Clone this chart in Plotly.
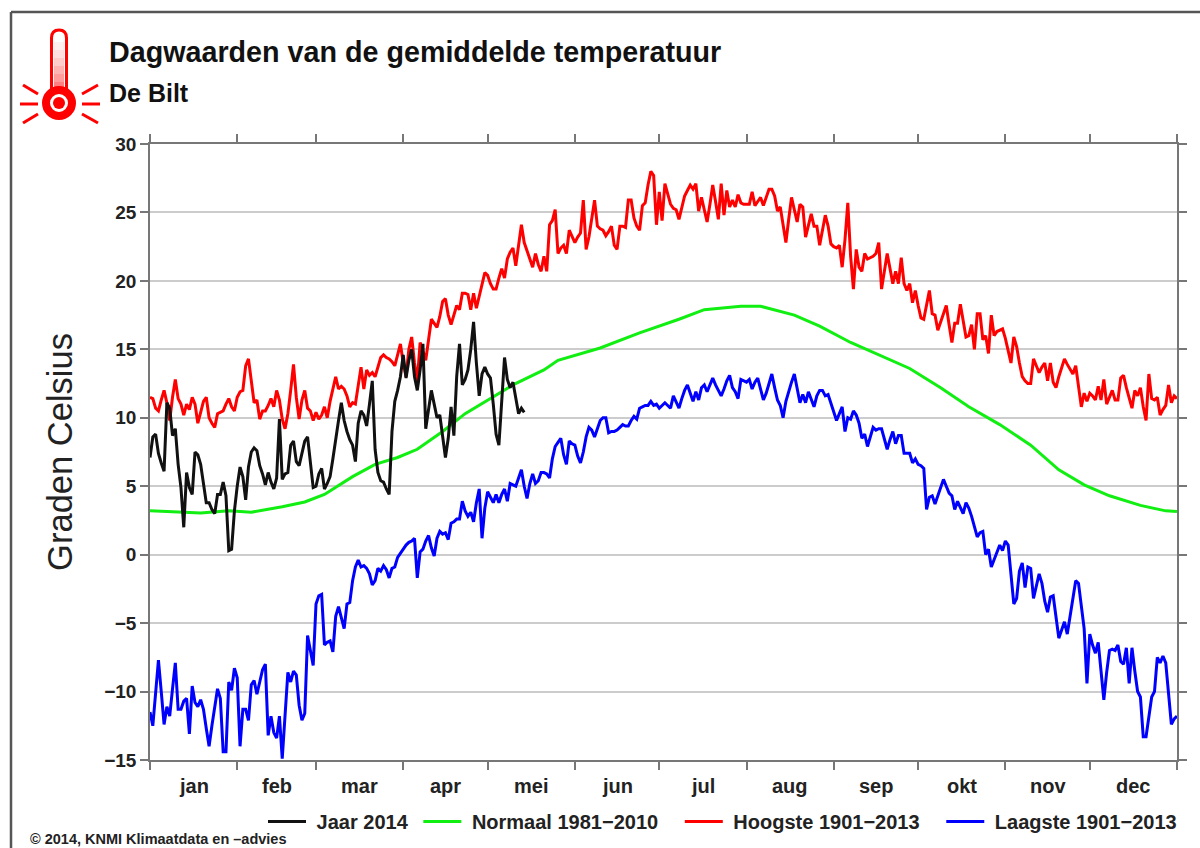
import plotly.graph_objects as go

TITLE = "Dagwaarden van de gemiddelde temperatuur"
STATION = "De Bilt"
CREDIT = "© 2014, KNMI Klimaatdata en –advies"
Y_TITLE = "Graden Celsius"
MONTHS = ["jan", "feb", "mar", "apr", "mei", "jun", "jul", "aug", "sep", "okt", "nov", "dec"]
MONTH_EDGES = [0, 31, 59, 90, 120, 151, 181, 212, 243, 273, 304, 334, 365]
Y_TICKS = [-15, -10, -5, 0, 5, 10, 15, 20, 25, 30]

jaar_2014 = [
    7.1, 8.6, 8.8, 7.4, 6.7, 6.1, 11.1, 10.7, 8.7, 9.2,
    6.6, 4.9, 2.0, 6.0, 4.9, 4.4, 7.5, 7.3, 6.6, 5.2,
    3.8, 3.8, 3.3, 3.0, 4.4, 4.4, 5.3, 4.3, 0.3, 0.4,
    3.2, 5.0, 6.4, 5.7, 4.0, 6.4, 7.5, 7.8, 7.6, 6.5,
    5.9, 5.1, 6.0, 5.3, 4.8, 5.6, 9.9, 5.5, 5.9, 6.0,
    8.0, 8.3, 6.8, 6.5, 7.4, 8.3, 8.6, 6.7, 4.9, 5.0,
    5.9, 6.3, 4.8, 5.2, 5.7, 7.0, 8.6, 9.8, 11.1, 9.8,
    9.0, 8.4, 8.0, 6.8, 9.6, 10.5, 10.2, 9.4, 11.0, 12.7,
    7.7, 6.0, 5.4, 5.3, 4.8, 4.4, 9.0, 11.2, 12.0, 13.0,
    14.6, 12.9, 14.2, 15.0, 13.0, 12.0, 13.5, 15.4, 9.2, 10.8,
    12.0, 11.0, 10.0, 10.2, 8.5, 7.1, 8.5, 10.8, 8.7, 13.0,
    15.4, 12.4, 12.8, 13.5, 15.0, 17.0, 14.0, 11.6, 13.2, 13.7,
    13.2, 12.9, 11.0, 8.8, 8.0, 11.5, 14.4, 12.8, 12.2, 12.6,
    11.3, 10.3, 10.7, 10.4,
]

hoogste = [
    11.5, 11.4, 10.7, 10.5, 11.3, 12.0, 11.1, 9.8, 11.5, 12.8,
    11.4, 11.0, 10.2, 11.0, 10.6, 11.5, 11.0, 9.6, 10.4, 11.2,
    11.5, 10.0, 9.6, 9.3, 10.3, 10.4, 10.5, 11.0, 11.4, 10.8,
    10.5, 11.5, 11.9, 12.0, 13.8, 14.3, 12.5, 11.1, 11.3, 9.9,
    10.5, 10.5, 10.9, 11.4, 10.8, 12.0, 11.3, 9.9, 9.2, 10.3,
    12.0, 13.9, 11.5, 9.9, 11.3, 12.0, 10.7, 10.5, 9.8, 10.4,
    9.9, 10.2, 10.8, 10.0, 11.2, 12.0, 13.0, 12.1, 12.3, 12.1,
    11.6, 10.8, 11.1, 11.0, 12.5, 13.7, 12.1, 13.5, 13.1, 13.3,
    13.0, 13.7, 14.4, 14.6, 14.4, 14.3, 14.1, 13.8, 14.6, 15.4,
    14.0, 13.0, 15.0, 15.9, 14.0, 12.7, 15.5, 14.8, 14.2, 15.7,
    17.2, 16.9, 16.6, 17.4, 18.5, 18.7, 17.5, 16.8, 17.5, 18.2,
    17.9, 19.1, 19.1, 19.0, 17.9, 19.1, 18.0, 18.9, 19.8, 20.6,
    20.4, 19.8, 19.4, 19.4, 20.2, 20.9, 20.2, 21.6, 22.1, 22.4,
    21.1, 22.8, 24.1, 22.8, 22.2, 21.7, 21.0, 22.0, 21.2, 20.7,
    21.8, 20.7, 24.1, 24.4, 25.2, 22.0, 22.4, 22.6, 22.0, 23.7,
    23.2, 22.8, 23.2, 23.5, 25.9, 22.3, 23.2, 24.5, 25.9, 24.0,
    23.8, 23.7, 23.3, 23.6, 24.0, 22.6, 22.3, 24.0, 24.0, 23.9,
    25.9, 25.9, 24.6, 24.0, 23.7, 25.5, 25.7, 27.0, 28.0, 27.7,
    24.1, 26.5, 24.4, 27.1, 26.3, 25.6, 25.3, 25.2, 24.5, 25.4,
    26.2, 26.6, 27.0, 26.7, 27.1, 25.1, 26.1, 25.2, 24.3, 25.6,
    27.0, 25.8, 24.5, 27.1, 24.8, 26.6, 25.4, 25.9, 25.4, 26.3,
    25.7, 25.6, 25.6, 25.6, 26.5, 25.5, 25.8, 26.1, 25.5, 26.1,
    26.7, 26.7, 26.2, 25.1, 25.4, 24.1, 22.8, 24.5, 26.1, 25.2,
    24.3, 25.6, 25.4, 23.2, 24.0, 24.9, 24.0, 24.0, 22.6, 23.7,
    24.8, 24.0, 22.7, 22.5, 22.4, 22.6, 21.0, 23.0, 25.7, 21.8,
    19.4, 22.3, 21.0, 20.7, 22.0, 21.6, 21.7, 21.8, 22.0, 22.8,
    19.4, 20.7, 22.0, 20.9, 19.8, 20.7, 19.8, 21.7, 19.8, 19.3,
    19.8, 18.4, 19.3, 18.2, 17.3, 17.2, 18.3, 19.3, 17.6, 17.5,
    16.4, 17.0, 17.6, 18.2, 16.8, 15.5, 16.9, 16.9, 18.3, 17.0,
    15.9, 16.0, 16.8, 15.0, 17.6, 17.6, 15.7, 16.0, 14.7, 17.5,
    16.0, 16.3, 16.4, 16.5, 15.8, 15.0, 14.0, 15.9, 15.2, 14.0,
    13.0, 12.7, 12.5, 12.5, 14.3, 13.8, 13.3, 13.7, 14.0, 12.7,
    14.0, 12.6, 12.2, 13.0, 13.6, 14.3, 13.9, 13.5, 13.2, 13.8,
    12.3, 10.8, 11.8, 11.2, 11.8, 11.6, 11.3, 12.3, 11.3, 12.8,
    11.0, 11.5, 12.0, 11.3, 11.3, 12.9, 13.1, 12.2, 11.4, 10.7,
    12.0, 11.6, 12.2, 10.8, 9.8, 13.2, 11.4, 11.3, 11.5, 10.2,
    10.6, 10.9, 12.4, 11.1, 11.6, 11.4,
]

laagste = [
    -11.5, -12.5, -10.1, -7.7, -10.0, -12.4, -11.1, -11.8, -9.8, -7.9,
    -11.3, -11.3, -10.7, -10.5, -13.1, -9.6, -10.8, -11.1, -10.6, -11.3,
    -12.7, -14.0, -12.5, -11.0, -9.8, -10.5, -14.4, -14.4, -9.3, -9.9,
    -8.3, -9.0, -14.0, -11.3, -11.3, -12.1, -9.5, -9.2, -10.2, -9.3,
    -8.4, -8.0, -13.2, -11.8, -13.0, -13.4, -11.8, -14.9, -11.5, -8.6,
    -9.3, -8.5, -8.8, -11.0, -12.1, -11.6, -5.9, -7.0, -8.1, -3.6,
    -3.0, -2.9, -6.6, -6.4, -6.3, -7.1, -4.5, -3.8, -4.6, -5.4,
    -3.6, -3.5, -1.9, -0.9, -0.4, -0.9, -0.8, -1.0, -1.4, -2.2,
    -1.9, -1.0, -1.2, -0.8, -1.1, -1.7, -1.0, -0.9, -0.2, 0.1,
    0.4, 0.7, 0.9, 1.0, 1.2, -1.7, 0.2, 0.4, 1.0, 1.4,
    0.5, -0.1, 1.2, 1.7, 1.5, 1.6, 1.1, 2.3, 2.4, 2.6,
    2.6, 3.9, 3.2, 2.8, 3.1, 2.4, 3.8, 4.8, 1.2, 3.4,
    4.6, 4.2, 3.8, 4.4, 3.8, 4.4, 4.8, 3.9, 5.2, 5.1,
    5.0, 5.6, 6.2, 5.0, 4.1, 5.2, 5.9, 5.2, 5.4, 6.0,
    6.0, 5.9, 5.6, 7.0, 7.9, 8.2, 8.5, 7.3, 6.6, 8.3,
    8.1, 8.0, 7.2, 6.7, 7.5, 8.6, 9.3, 9.1, 8.6, 9.2,
    9.8, 10.0, 10.0, 8.9, 9.0, 9.0, 9.1, 9.3, 9.5, 9.4,
    9.4, 9.8, 10.1, 9.9, 10.7, 10.8, 10.9, 10.9, 11.2, 10.9,
    11.0, 10.7, 10.9, 11.1, 10.9, 10.7, 11.6, 11.1, 10.7, 11.4,
    12.0, 12.4, 11.8, 11.2, 11.9, 11.3, 12.2, 12.4, 11.9, 12.4,
    12.9, 12.4, 12.0, 11.6, 12.1, 12.7, 13.1, 12.2, 11.9, 11.4,
    12.8, 12.7, 12.6, 12.8, 12.1, 12.6, 12.9, 12.1, 11.3, 11.8,
    12.6, 13.2, 12.2, 11.3, 10.9, 10.0, 11.2, 12.0, 12.6, 13.2,
    12.1, 11.1, 11.7, 11.1, 11.9, 11.3, 10.8, 11.6, 12.0, 12.0,
    11.6, 11.7, 11.1, 10.4, 9.8, 10.3, 10.8, 9.0, 10.0, 9.9,
    10.5, 10.2, 9.6, 8.5, 8.8, 7.9, 8.6, 9.3, 9.1, 9.2,
    9.2, 8.4, 7.7, 8.4, 9.0, 8.1, 8.7, 8.7, 7.4, 7.4,
    7.4, 6.7, 7.0, 6.6, 6.5, 6.3, 3.3, 4.2, 4.3, 3.7,
    4.3, 4.9, 5.5, 5.0, 4.5, 4.3, 3.3, 3.9, 3.4, 3.0,
    3.8, 3.4, 2.8, 2.0, 1.3, 1.6, 1.7, 0.0, 0.4, -0.9,
    -0.4, 0.2, 0.7, 0.3, 1.0, 0.7, -1.5, -3.6, -3.2, -1.2,
    -0.6, -2.4, -0.9, -1.0, -3.2, -2.2, -1.4, -2.1, -3.4, -4.2,
    -3.1, -3.0, -4.6, -6.1, -5.5, -4.9, -5.8, -4.5, -3.1, -1.9,
    -2.1, -4.0, -5.4, -9.4, -5.8, -6.6, -7.2, -6.4, -8.5, -10.6,
    -8.6, -7.0, -6.9, -7.0, -6.6, -7.8, -8.0, -6.8, -9.4, -6.8,
    -8.5, -10.0, -10.4, -13.3, -13.3, -11.8, -10.4, -10.0, -7.5, -7.9,
    -7.4, -7.9, -10.2, -12.4, -12.0, -11.8,
]

normaal_dag = [0, 12, 18, 28, 36, 47, 55, 62, 65, 72, 80, 88, 95, 104, 112, 122, 129, 140, 145,
               160, 174, 188, 197, 210, 217, 229, 238, 249, 259, 270, 281, 291, 302, 313, 323,
               332, 341, 352, 361, 365]
normaal = [3.2, 3.1, 3.05, 3.2, 3.1, 3.5, 3.85, 4.4, 4.8, 5.7, 6.6, 7.1, 7.7, 9.0, 10.3, 11.5, 12.4, 13.5, 14.2,
           15.1, 16.2, 17.2, 17.9, 18.15, 18.15, 17.5, 16.7, 15.5, 14.6, 13.6, 12.2, 10.8, 9.5, 8.0, 6.2,
           5.1, 4.3, 3.6, 3.2, 3.15]

FONT = "Liberation Sans"
NB = "\u00a0"
L, R, T, B = 150, 1177, 144, 760
def px(x): return (x - L) / (R - L)
def py(y): return (B - y) / (B - T)

def seg(x0, y0, x1, y1, color="#ff0000", width=3):
    return dict(type="line", xref="paper", yref="paper", x0=px(x0), y0=py(y0), x1=px(x1), y1=py(y1),
                line=dict(color=color, width=width), layer="above")

def circle(cx, cy, r, fill, line=None, width=0):
    return dict(type="circle", xref="paper", yref="paper", x0=px(cx - r), x1=px(cx + r), y0=py(cy + r), y1=py(cy - r),
                fillcolor=fill, line=dict(color=line or fill, width=width), layer="above")

def tube():
    top, bottom, a, b, r = 38, 92, 51.5, 66.5, 8
    return (f"M {px(a)} {py(bottom)} L {px(a)} {py(top)} "
            f"Q {px(a)} {py(top - r)} {px((a + b) / 2)} {py(top - r)} "
            f"Q {px(b)} {py(top - r)} {px(b)} {py(top)} L {px(b)} {py(bottom)}")

shapes = [
    seg(11, 12, 1200, 12, "#555555", 2.5),
    seg(11, 12, 11, 848, "#555555", 2.5),
    dict(type="path", xref="paper", yref="paper", path=tube(), line=dict(color="#ff0000", width=3),
         fillcolor="white", layer="above"),
]
for y0, color in [(42, "#fff0f0"), (50, "#ffe0e0"), (58, "#ffcccc"), (66, "#ffb4b4"), (74, "#ff9c9c"), (82, "#ff8080")]:
    shapes.append(dict(type="rect", xref="paper", yref="paper", x0=px(54), x1=px(64), y0=py(y0 + 8), y1=py(y0),
                       fillcolor=color, line=dict(width=0), layer="above"))
shapes += [
    circle(59, 103, 13, "white", "#ff0000", 8),
    circle(59, 103, 6, "#ff0000"),
    seg(23, 85, 38, 94), seg(20, 104, 38, 104), seg(23, 123, 38, 114),
    seg(82, 94, 98, 85), seg(82, 104, 100, 104), seg(82, 114, 98, 123),
]

annotations = [
    dict(text=STATION, xref="paper", yref="paper", x=px(107), y=py(93), xanchor="left", yanchor="middle",
         showarrow=False, font=dict(family=FONT, size=25, color="#111111", weight=700)),
    dict(text=CREDIT, xref="paper", yref="paper", x=px(28), y=py(839), xanchor="left", yanchor="middle",
         showarrow=False, font=dict(family=FONT, size=14.5, color="#222222", weight=700)),
]
for i, m in enumerate(MONTHS):
    annotations.append(dict(text=m, xref="x", yref="paper", x=(MONTH_EDGES[i] + MONTH_EDGES[i + 1]) / 2, y=py(786),
                            xanchor="center", yanchor="middle", showarrow=False,
                            font=dict(family=FONT, size=20, color="#222222", weight=700)))

fig = go.Figure()
fig.add_trace(go.Scatter(x=list(range(len(laagste))), y=laagste, mode="lines", name=NB + "Laagste 1901−2013",
                         line=dict(color="#0000ff", width=3)))
fig.add_trace(go.Scatter(x=list(range(len(hoogste))), y=hoogste, mode="lines",
                         name=NB + "Hoogste 1901−2013" + NB + NB + NB,
                         line=dict(color="#ff0000", width=3)))
fig.add_trace(go.Scatter(x=normaal_dag, y=normaal, mode="lines", name=NB + "Normaal 1981−2010" + NB + NB + NB,
                         line=dict(color="#11ee11", width=3)))
fig.add_trace(go.Scatter(x=list(range(len(jaar_2014))), y=jaar_2014, mode="lines", name=NB + "Jaar 2014" + NB,
                         line=dict(color="#111111", width=3)))

fig.update_layout(
    width=1200, height=848, autosize=False,
    margin=dict(l=L, r=1200 - R, t=T, b=848 - B, autoexpand=False),
    paper_bgcolor="white", plot_bgcolor="white",
    font=dict(family=FONT, color="#222222"),
    title=dict(text=TITLE, xref="container", yref="container", x=109 / 1200, y=1 - 52 / 848,
               xanchor="left", yanchor="middle",
               font=dict(family=FONT, size=28.7, color="#111111", weight=700)),
    xaxis=dict(range=[0, 365], tickvals=MONTH_EDGES, showticklabels=False, ticks="outside", ticklen=8,
               tickcolor="#777777", tickwidth=1.5, showline=True, linecolor="#777777", linewidth=1.5,
               mirror="ticks", showgrid=False, zeroline=False),
    yaxis=dict(range=[-15, 30], tickvals=Y_TICKS, ticks="outside", ticklen=8, tickcolor="#777777", tickwidth=1.5,
               showline=True, linecolor="#777777", linewidth=1.5, mirror="ticks",
               showgrid=True, gridcolor="#cccccc", gridwidth=1.5, zeroline=False,
               tickfont=dict(family=FONT, size=19, color="#222222", weight=700),
               title=dict(text=Y_TITLE, font=dict(family=FONT, size=34.5, color="#222222"), standoff=21)),
    legend=dict(orientation="h", traceorder="reversed", x=px(263), y=py(802), xanchor="left", yanchor="top",
                itemwidth=38, bgcolor="rgba(0,0,0,0)",
                font=dict(family=FONT, size=20, color="#222222", weight=700)),
    shapes=shapes, annotations=annotations, showlegend=True,
)
fig.write_html("out.html", post_script="document.body.style.margin='0';", config={"displayModeBar": False})
